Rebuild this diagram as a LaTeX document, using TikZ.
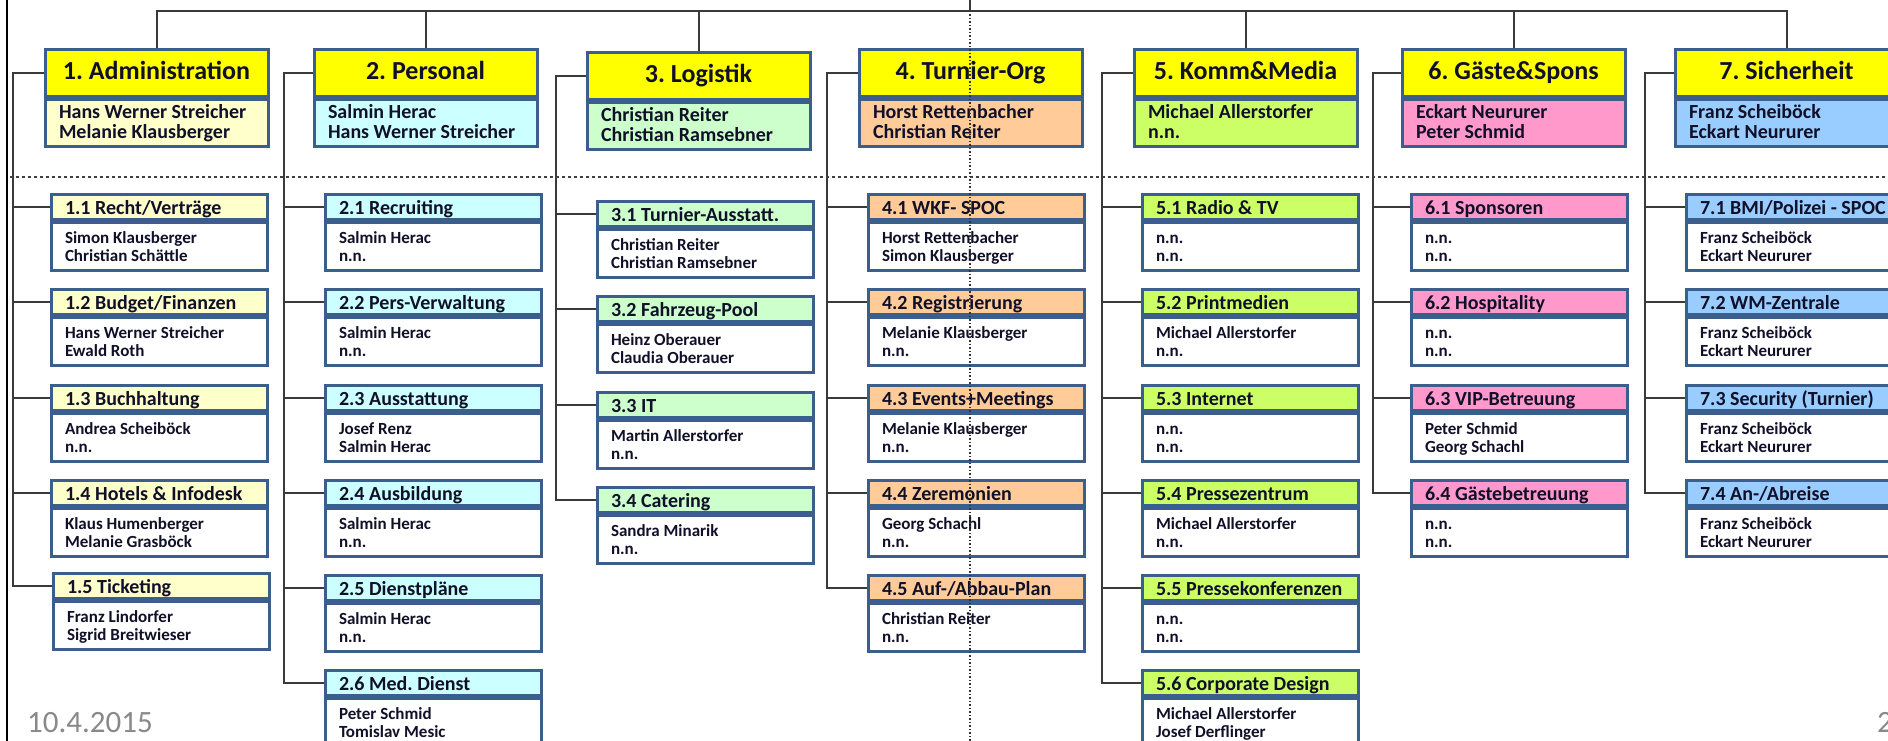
\documentclass[tikz,border=0pt]{standalone}
\usepackage{fontspec}
\setmainfont{Carlito}
\frenchspacing
\definecolor{bord}{RGB}{60,94,140}
\definecolor{conn}{RGB}{58,58,58}
\definecolor{hy}{RGB}{255,255,0}
\definecolor{ca}{RGB}{255,255,204}
\definecolor{cb}{RGB}{204,255,255}
\definecolor{cc}{RGB}{204,255,204}
\definecolor{cd}{RGB}{255,204,153}
\definecolor{ce}{RGB}{204,255,102}
\definecolor{cf}{RGB}{255,153,204}
\definecolor{cg}{RGB}{153,204,255}
\definecolor{foot}{RGB}{137,137,137}
\definecolor{ink}{RGB}{16,16,40}
\tikzset{
 boxline/.style={draw=bord, line width=3bp, rectangle, inner ysep=0pt, text=ink},
 mainh/.style={boxline, fill=hy, minimum width=223bp, minimum height=46.5bp, inner xsep=0pt,
   font=\fontsize{26bp}{28bp}\selectfont\bfseries, text height=18bp, text depth=5bp},
 mainb/.style={boxline, minimum width=223bp, minimum height=47bp, text width=195bp, inner xsep=14bp,
   align=flush left, font=\fontsize{20bp}{20bp}\selectfont\bfseries, text height=15bp, text depth=24.5bp},
 subh/.style={boxline, text width=188bp, inner xsep=14bp, minimum height=25bp, align=flush left,
   font=\fontsize{20bp}{20bp}\selectfont\bfseries, text height=16bp, text depth=1bp},
 subb/.style={boxline, fill=white, text width=188bp, inner xsep=14bp, minimum height=48bp, align=flush left,
   font=\fontsize{17bp}{18bp}\selectfont\bfseries, text height=15bp, text depth=20bp},
 link/.style={draw=conn, line width=2bp},
 dotline/.style={draw=black!80, line width=1.5bp, dash pattern=on 1.5bp off 2bp},
 dashline/.style={draw=black!75, line width=1.5bp, dash pattern=on 3bp off 3bp},
 foottext/.style={anchor=base west, inner sep=0pt, text=foot, font=\fontsize{31bp}{31bp}\selectfont},
}
\newcommand\mysub[6]{%
 \node[subh, fill=#4, anchor=north west] (h#1) at (#2,#3) {\mbox{#5}};
 \node[subb, anchor=north west] (b#1) at (h#1.south west) {#6};
}
\newcommand\mymain[6]{%
 \node[mainh, anchor=north west] (h#1) at (#2,#3) {#5};
 \node[mainb, fill=#4, anchor=north west] (b#1) at (h#1.south west) {#6};
}
\begin{document}
\begin{tikzpicture}[x=1bp,y=-1bp]
\fill[white] (0,0) rectangle (1888,741);
\useasboundingbox (0,0) rectangle (1888,741);

% main boxes
\mymain{1}{43.5}{48.5}{ca}{1. Administration}{Hans Werner Streicher\\Melanie Klausberger}
\mymain{2}{312.5}{48.5}{cb}{2. Personal}{Salmin Herac\\Hans Werner Streicher}
\mymain{3}{585.5}{51.5}{cc}{3. Logistik}{Christian Reiter\\Christian Ramsebner}
\mymain{4}{857.5}{48.5}{cd}{4. Turnier-Org}{Horst Rettenbacher\\Christian Reiter}
\mymain{5}{1132.5}{48.5}{ce}{5. Komm\&Media}{Michael Allerstorfer\\n.n.}
\mymain{6}{1400.5}{48.5}{cf}{6. Gäste\&Spons}{Eckart Neururer\\Peter Schmid}
\mymain{7}{1673.5}{48.5}{cg}{7. Sicherheit}{Franz Scheiböck\\Eckart Neururer}

% column 1
\mysub{11}{49.5}{192.5}{ca}{1.1 Recht/Verträge}{Simon Klausberger\\Christian Schättle}
\mysub{12}{49.5}{287.5}{ca}{1.2 Budget/Finanzen}{Hans Werner Streicher\\Ewald Roth}
\mysub{13}{49.5}{383.5}{ca}{1.3 Buchhaltung}{Andrea Scheiböck\\n.n.}
\mysub{14}{49.5}{478.5}{ca}{1.4 Hotels \& Infodesk}{Klaus Humenberger\\Melanie Grasböck}
\mysub{15}{51.5}{571.5}{ca}{1.5 Ticketing}{Franz Lindorfer\\Sigrid Breitwieser}
% column 2
\mysub{21}{323.5}{192.5}{cb}{2.1 Recruiting}{Salmin Herac\\n.n.}
\mysub{22}{323.5}{287.5}{cb}{2.2 Pers-Verwaltung}{Salmin Herac\\n.n.}
\mysub{23}{323.5}{383.5}{cb}{2.3 Ausstattung}{Josef Renz\\Salmin Herac}
\mysub{24}{323.5}{478.5}{cb}{2.4 Ausbildung}{Salmin Herac\\n.n.}
\mysub{25}{323.5}{573.5}{cb}{2.5 Dienstpläne}{Salmin Herac\\n.n.}
\mysub{26}{323.5}{668.5}{cb}{2.6 Med. Dienst}{Peter Schmid\\Tomislav Mesic}
% column 3
\mysub{31}{595.5}{199.5}{cc}{3.1 Turnier-Ausstatt.}{Christian Reiter\\Christian Ramsebner}
\mysub{32}{595.5}{294.5}{cc}{3.2 Fahrzeug-Pool}{Heinz Oberauer\\Claudia Oberauer}
\mysub{33}{595.5}{390.5}{cc}{3.3 IT}{Martin Allerstorfer\\n.n.}
\mysub{34}{595.5}{485.5}{cc}{3.4 Catering}{Sandra Minarik\\n.n.}
% column 4
\mysub{41}{866.5}{192.5}{cd}{4.1 WKF- SPOC}{Horst Rettenbacher\\Simon Klausberger}
\mysub{42}{866.5}{287.5}{cd}{4.2 Registrierung}{Melanie Klausberger\\n.n.}
\mysub{43}{866.5}{383.5}{cd}{4.3 Events+Meetings}{Melanie Klausberger\\n.n.}
\mysub{44}{866.5}{478.5}{cd}{4.4 Zeremonien}{Georg Schachl\\n.n.}
\mysub{45}{866.5}{573.5}{cd}{4.5 Auf-/Abbau-Plan}{Christian Reiter\\n.n.}
% column 5
\mysub{51}{1140.5}{192.5}{ce}{5.1 Radio \& TV}{n.n.\\n.n.}
\mysub{52}{1140.5}{287.5}{ce}{5.2 Printmedien}{Michael Allerstorfer\\n.n.}
\mysub{53}{1140.5}{383.5}{ce}{5.3 Internet}{n.n.\\n.n.}
\mysub{54}{1140.5}{478.5}{ce}{5.4 Pressezentrum}{Michael Allerstorfer\\n.n.}
\mysub{55}{1140.5}{573.5}{ce}{5.5 Pressekonferenzen}{n.n.\\n.n.}
\mysub{56}{1140.5}{668.5}{ce}{5.6 Corporate Design}{Michael Allerstorfer\\Josef Derflinger}
% column 6
\mysub{61}{1409.5}{192.5}{cf}{6.1 Sponsoren}{n.n.\\n.n.}
\mysub{62}{1409.5}{287.5}{cf}{6.2 Hospitality}{n.n.\\n.n.}
\mysub{63}{1409.5}{383.5}{cf}{6.3 VIP-Betreuung}{Peter Schmid\\Georg Schachl}
\mysub{64}{1409.5}{478.5}{cf}{6.4 Gästebetreuung}{n.n.\\n.n.}
% column 7
\mysub{71}{1684.5}{192.5}{cg}{7.1 BMI/Polizei - SPOC}{Franz Scheiböck\\Eckart Neururer}
\mysub{72}{1684.5}{287.5}{cg}{7.2 WM-Zentrale}{Franz Scheiböck\\Eckart Neururer}
\mysub{73}{1684.5}{383.5}{cg}{7.3 Security (Turnier)}{Franz Scheiböck\\Eckart Neururer}
\mysub{74}{1684.5}{478.5}{cg}{7.4 An-/Abreise}{Franz Scheiböck\\Eckart Neururer}

% trunk coordinates
\coordinate (v1) at (13,0);
\coordinate (v2) at (284,0);
\coordinate (v3) at (556,0);
\coordinate (v4) at (827,0);
\coordinate (v5) at (1102,0);
\coordinate (v6) at (1373,0);
\coordinate (v7) at (1645,0);

\draw[link] (h1.west) -- (h1.west -| v1) |- (h15.west);
\foreach \k in {11,12,13,14} \draw[link] (h\k.west -| v1) -- (h\k.west);
\draw[link] (h2.west) -- (h2.west -| v2) |- (h26.west);
\foreach \k in {21,22,23,24,25} \draw[link] (h\k.west -| v2) -- (h\k.west);
\draw[link] (h3.west) -- (h3.west -| v3) |- (h34.west);
\foreach \k in {31,32,33} \draw[link] (h\k.west -| v3) -- (h\k.west);
\draw[link] (h4.west) -- (h4.west -| v4) |- (h45.west);
\foreach \k in {41,42,43,44} \draw[link] (h\k.west -| v4) -- (h\k.west);
\draw[link] (h5.west) -- (h5.west -| v5) |- (h56.west);
\foreach \k in {51,52,53,54,55} \draw[link] (h\k.west -| v5) -- (h\k.west);
\draw[link] (h6.west) -- (h6.west -| v6) |- (h64.west);
\foreach \k in {61,62,63} \draw[link] (h\k.west -| v6) -- (h\k.west);
\draw[link] (h7.west) -- (h7.west -| v7) |- (h74.west);
\foreach \k in {71,72,73} \draw[link] (h\k.west -| v7) -- (h\k.west);

% top bus
\coordinate (bus) at (0,11);
\coordinate (top) at (970,0);
\coordinate (bot) at (970,741);
\draw[link] (h1.north) -- (h1.north |- bus) -- (h7.north |- bus) -- (h7.north);
\foreach \k in {2,3,5,6} \draw[link] (h\k.north) -- (h\k.north |- bus);
\draw[link] (top) -- (top |- bus);

% outer frame line
\coordinate (o1) at (7,0);
\coordinate (o2) at (7,741);
\draw[draw=black, line width=2.5bp] (o1) -- (o2);

% dotted guide lines
\coordinate (dl) at (10,177);
\coordinate (dr) at (1888,177);
\draw[dashline] (dl) -- (dr);
\draw[dotline] (top |- bus) -- (bot);

% footer
\node[foottext] (date) at (27,732) {10.4.2015};
\node[foottext] (page) at (1877,732) {2};
\end{tikzpicture}
\end{document}
